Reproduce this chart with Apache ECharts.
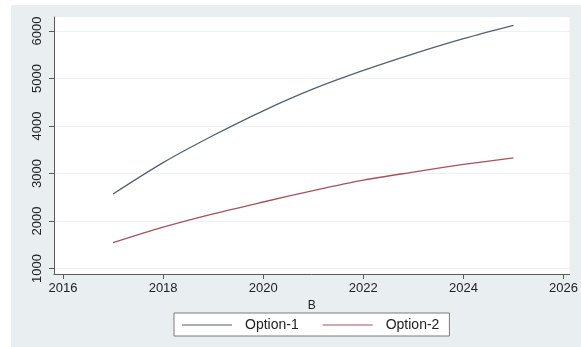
<!DOCTYPE html>
<html>
<head>
<meta charset="utf-8">
<script src="https://cdn.jsdelivr.net/npm/echarts@6/dist/echarts.min.js"></script>
<style>
html,body{margin:0;padding:0;background:#fff;}
#chart{width:581px;height:347px;}
</style>
</head>
<body>
<div id="chart"></div>
<script>
var years = [2017, 2018, 2019, 2020, 2021, 2022, 2023, 2024, 2025];
var option1 = [2570, 3230, 3800, 4320, 4780, 5170, 5520, 5840, 6120];
var option2 = [1543, 1870, 2150, 2400, 2640, 2860, 3030, 3190, 3330];
var xTicks = [2016, 2018, 2020, 2022, 2024, 2026];
var yTicks = [1000, 2000, 3000, 4000, 5000, 6000];
var seriesNames = ['Option-1', 'Option-2'];
var axisName = 'B';

function pairs(xs, ys){ return xs.map(function(x,i){ return [x, ys[i]]; }); }
function plain(v){ return String(Math.round(v)); }

var chart = echarts.init(document.getElementById('chart'), null, {renderer:'canvas'});
var font = 'Liberation Sans, Arial, sans-serif';
chart.setOption({
  animation: false,
  backgroundColor: '#ffffff',
  graphic: [{
    type: 'rect', left: 11, top: 5, z: -10,
    shape: {width: 570, height: 342},
    style: {fill: '#e9eef1'}
  }],
  grid: {
    left: 54, top: 17, right: 11, bottom: 73,
    show: true, backgroundColor: '#ffffff', borderWidth: 0
  },
  legend: {
    data: seriesNames.map(function(n){ return {name: n, icon: 'rect'}; }),
    left: 174, top: 313,
    padding: [5, 10, 4, 8],
    itemWidth: 50, itemHeight: 1, itemGap: 24,
    backgroundColor: '#ffffff', borderColor: '#7a7a7a', borderWidth: 1,
    textStyle: {fontFamily: font, fontSize: 14, color: '#222', padding: [0, 0, 0, 8]}
  },
  xAxis: {
    type: 'value', min: 2015.82, max: 2026.12,
    name: axisName, nameLocation: 'middle', nameGap: 26,
    nameTextStyle: {fontFamily: font, fontSize: 12, color: '#222'},
    axisLine: {show: true, lineStyle: {color: '#5a5a5a', width: 1}},
    axisTick: {show: true, length: 5, customValues: xTicks, lineStyle: {color: '#5a5a5a'}},
    axisLabel: {customValues: xTicks, formatter: plain, margin: 8, fontFamily: font, fontSize: 13, color: '#222'},
    splitLine: {show: false}
  },
  yAxis: {
    type: 'value', min: 884, max: 6295,
    axisLine: {show: true, lineStyle: {color: '#5a5a5a', width: 1}},
    axisTick: {show: true, length: 5, customValues: yTicks, lineStyle: {color: '#5a5a5a'}},
    axisLabel: {customValues: yTicks, formatter: plain, rotate: 90, margin: 10, fontFamily: font, fontSize: 13, color: '#222'},
    splitLine: {show: true, lineStyle: {color: '#eef2f4', width: 1}}
  },
  series: [{
    name: seriesNames[0], type: 'line', data: pairs(years, option1),
    smooth: 0.3, showSymbol: false, symbol: 'none',
    lineStyle: {color: '#55616e', width: 1.3}, itemStyle: {color: '#55616e'}
  }, {
    name: seriesNames[1], type: 'line', data: pairs(years, option2),
    smooth: 0.3, showSymbol: false, symbol: 'none',
    lineStyle: {color: '#a4535d', width: 1.3}, itemStyle: {color: '#a4535d'}
  }]
});
</script>
</body>
</html>
